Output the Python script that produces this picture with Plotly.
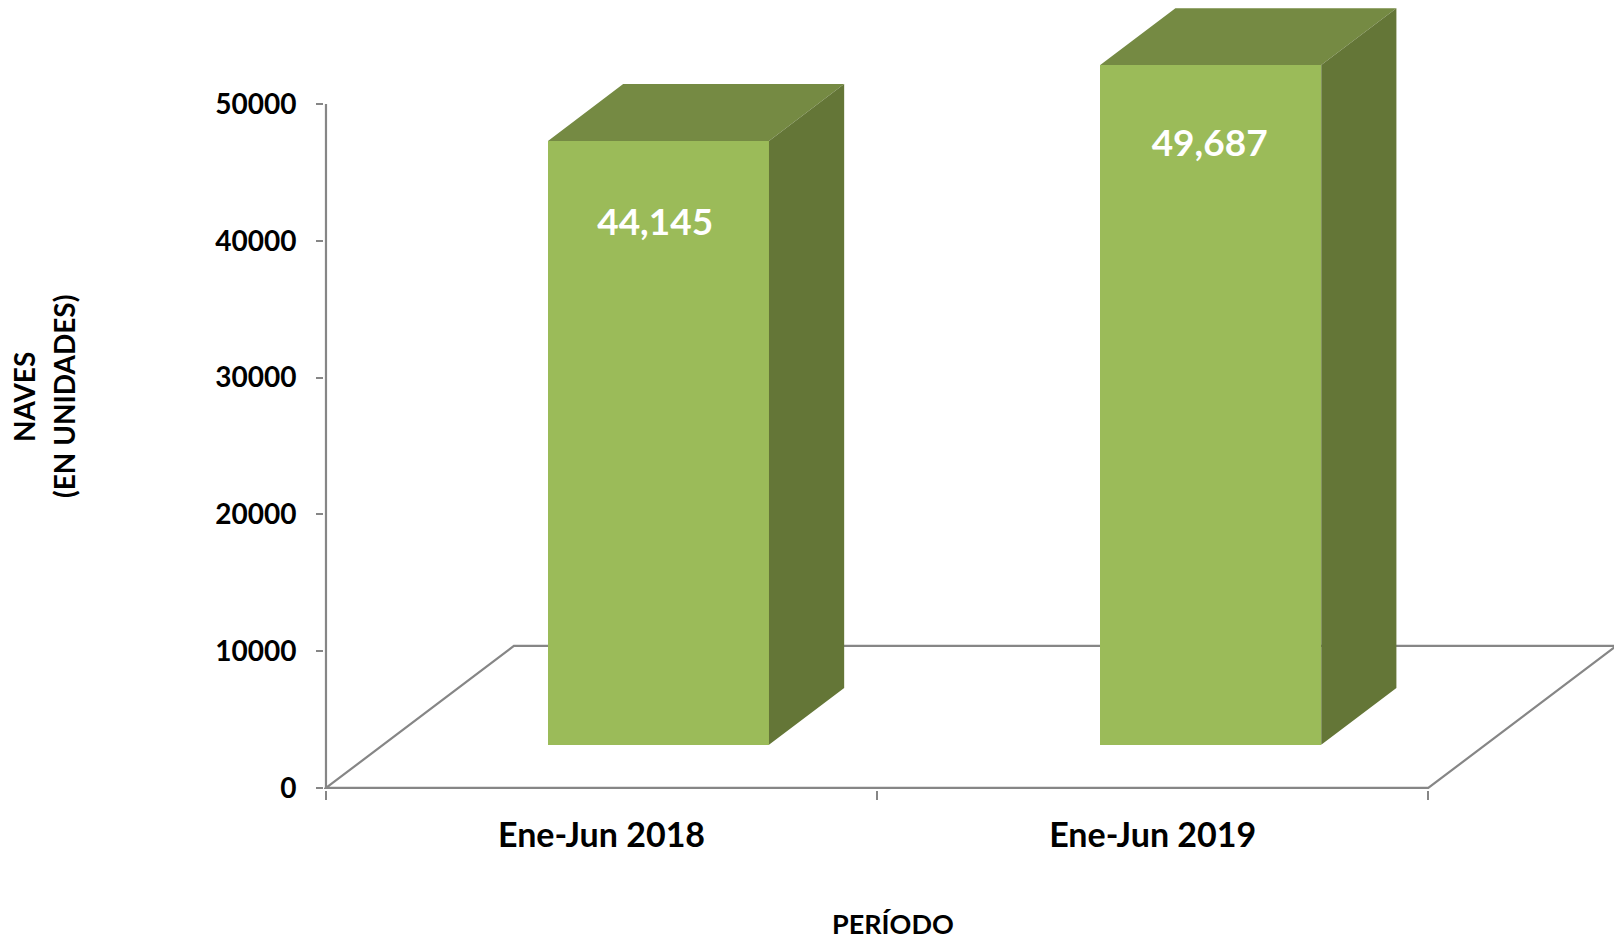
import plotly.graph_objects as go

# --- data ---
categories = ["Ene-Jun 2018", "Ene-Jun 2019"]
naves = [44145, 49687]
y_ticks = [0, 10000, 20000, 30000, 40000, 50000]
x_title = "PERÍODO"
y_title_lines = ["NAVES", "(EN UNIDADES)"]

# --- pseudo-3D geometry, in axis units ---
FLOOR_DX, FLOOR_DY = 0.341, 10380
BAR_FRONT = 0.30
BAR_DEPTH = 0.40
BAR_WIDTH = 0.401
BAR_STEP = 1.002
BASE = FLOOR_DY * BAR_FRONT + 40
DX, DY = FLOOR_DX * BAR_DEPTH, FLOOR_DY * BAR_DEPTH
SHIFT = FLOOR_DX * BAR_FRONT + 0.001
LABEL_DROP = (6225, 6000)
LABEL_NUDGE = (-0.006, -0.002)
N = len(categories)

FRONT, TOP, SIDE = "#9BBB59", "#758A43", "#647637"
LINE = "#868686"
FONT = "Lato"

centers = [i + 0.5 for i in range(N)]
bar_x = [0.5 + SHIFT + i * BAR_STEP for i in range(N)]

side_x, side_y, top_x, top_y = [], [], [], []
for x, v in zip(bar_x, naves):
    l, r = x - BAR_WIDTH / 2, x + BAR_WIDTH / 2
    t = BASE + v
    side_x += [r, r + DX, r + DX, r, r, None]
    side_y += [BASE, BASE + DY, t + DY, t, BASE, None]
    top_x += [l, l + DX, r + DX, r, l, None]
    top_y += [t, t + DY, t + DY, t, t, None]

fig = go.Figure()
fig.add_bar(x=bar_x, y=naves, base=[BASE] * N, width=BAR_WIDTH,
            marker=dict(color=FRONT, line=dict(width=0)), hoverinfo="skip")
for xs, ys, col in [(top_x, top_y, TOP), (side_x, side_y, SIDE)]:
    fig.add_scatter(x=xs, y=ys, mode="lines", fill="toself", fillcolor=col,
                    line=dict(width=0, color=col), hoverinfo="skip")
fig.add_scatter(x=[x + d for x, d in zip(bar_x, LABEL_NUDGE)],
                y=[BASE + v - d for v, d in zip(naves, LABEL_DROP)], mode="text",
                text=[f"{v:,}" for v in naves], textposition="middle center",
                textfont=dict(family=FONT, size=37, color="white", weight=700),
                hoverinfo="skip")

# floor and axis lines sit behind the bars
line = dict(color=LINE, width=2.2)
floor_path = (f"M 0 0 L {N} 0 L {N + FLOOR_DX} {FLOOR_DY} "
              f"L {FLOOR_DX} {FLOOR_DY} Z")
shapes = [
    dict(type="path", path=floor_path, xref="x", yref="y", layer="below", line=line),
    dict(type="line", x0=0, x1=0, y0=0, y1=max(y_ticks), xref="x", yref="y",
         layer="below", line=line),
]

W, H = 1614, 940
L, B = 324, 150
PLOT_W, PLOT_H = W - L, H - B


def annotation(text, px, py, angle=0):
    return dict(text=text, xref="paper", yref="paper", x=(px - L) / PLOT_W,
                y=(PLOT_H - py) / PLOT_H, textangle=angle, showarrow=False,
                xanchor="center", yanchor="middle",
                font=dict(family=FONT, size=28 if angle else 27, color="black", weight=700))


fig.update_layout(
    width=W, height=H, autosize=False, showlegend=False, shapes=shapes,
    margin=dict(l=L, r=0, t=0, b=B, pad=0),
    paper_bgcolor="white", plot_bgcolor="white",
    bargap=0,
    xaxis=dict(range=[-0.0036, 2.337], showgrid=False, zeroline=False, showline=False,
               tickmode="array", tickvals=centers, ticktext=categories, ticks="",
               ticklabelstandoff=22,
               tickfont=dict(family=FONT, size=34, color="black", weight=700),
               minor=dict(tickmode="array", tickvals=list(range(N + 1)), ticks="outside",
                          ticklen=9, tickwidth=1.8, tickcolor=LINE, showgrid=False)),
    yaxis=dict(range=[-150, 57599], showgrid=False, zeroline=False, showline=False,
               tickmode="array", tickvals=y_ticks, ticktext=[str(v) for v in y_ticks],
               ticks="outside", ticklen=7, tickwidth=1.8, tickcolor=LINE,
               ticklabelstandoff=14,
               tickfont=dict(family=FONT, size=28, color="black", weight=700)),
    annotations=[
        annotation(x_title, 893.4, 923),
        annotation(y_title_lines[0], 24, 397, -90),
        annotation(y_title_lines[1], 64, 397, -90),
    ],
)

fig.write_html("out.html", config=dict(displayModeBar=False),
               post_script="document.body.style.margin='0';document.body.style.overflow='hidden';")
